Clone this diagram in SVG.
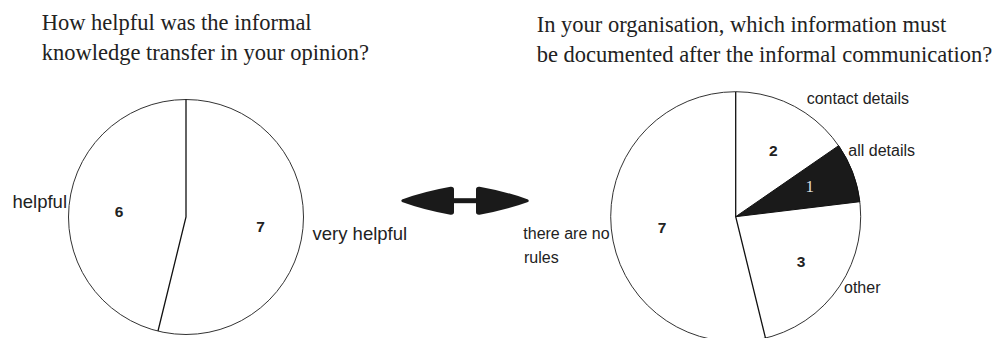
<svg xmlns="http://www.w3.org/2000/svg" width="1004" height="338" viewBox="0 0 1004 338">
<style>
.title{font-family:"Liberation Serif","Times New Roman",serif;font-size:22.5px;fill:#222}
.lblL{font-family:"Liberation Sans",Arial,sans-serif;font-size:18.5px;fill:#222}
.lblR{font-family:"Liberation Sans",Arial,sans-serif;font-size:16px;fill:#222}
.num{font-family:"Liberation Sans",Arial,sans-serif;font-size:15.5px;font-weight:bold;fill:#222;text-anchor:middle}
.rim{fill:#fff;stroke:#333;stroke-width:1}
.rad{fill:none;stroke:#111;stroke-width:1.3}
</style>
<defs>
<marker id="head" markerUnits="userSpaceOnUse" markerWidth="54" markerHeight="30" viewBox="0 0 54 30" refX="0" refY="14.25" orient="auto-start-reverse">
<path d="M0,3 Q0,0 3.5,0.3 Q30,5 52,13 Q53.5,14.25 52,15.5 Q30,23.5 3.5,28.2 Q0,28.5 0,25.5 Z" fill="#1a1a1a"/>
</marker>
</defs>
<g id="title-left">
<text class="title" x="41.7" y="30">How helpful was the informal</text>
<text class="title" x="41.7" y="60">knowledge transfer in your opinion?</text>
</g>
<g id="title-right">
<text class="title" x="536.7" y="31.5">In your organisation, which information must</text>
<text class="title" x="536.7" y="61.5">be documented after the informal communication?</text>
</g>
<g id="pie-left">
<circle class="rim" cx="186" cy="217" r="117.5"/>
<path class="rad" d="M186,99.5 L186,217 L158,331"/>
<text class="num" x="119" y="217">6</text>
<text class="num" x="260.5" y="232">7</text>
<text class="lblL" x="12.5" y="208.3">helpful</text>
<text class="lblL" x="312.5" y="240">very helpful</text>
</g>
<g id="pie-right">
<circle class="rim" cx="735.7" cy="216.7" r="125"/>
<path d="M735.7,216.7 L838.6,145.7 A125,125 0 0 1 859.8,201.7 Z" fill="#1a1a1a" stroke="#111" stroke-width="1"/>
<path class="rad" d="M735.7,91.7 L735.7,216.7 L765.5,338.1"/>
<text class="num" x="773.3" y="156">2</text>
<text x="809.7" y="191.5" font-family="Liberation Serif, Times New Roman, serif" font-size="17px" fill="#ddd" text-anchor="middle">1</text>
<text class="num" x="662" y="233">7</text>
<text class="num" x="801" y="266.5">3</text>
<text class="lblR" x="806.7" y="104">contact details</text>
<text class="lblR" x="848.3" y="156">all details</text>
<text class="lblR" x="844" y="293.3">other</text>
<text class="lblR" x="523.3" y="239.3">there are no</text>
<text class="lblR" x="524" y="262.7">rules</text>
</g>
<g id="connectors">
<line x1="454" y1="200.7" x2="476" y2="200.7" stroke="#1a1a1a" stroke-width="5" marker-start="url(#head)" marker-end="url(#head)"/>
</g>
</svg>
